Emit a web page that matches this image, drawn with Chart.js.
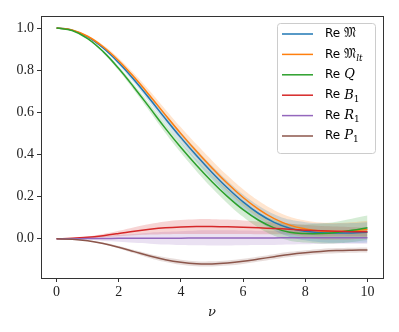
<!DOCTYPE html>
<html>
<head>
<meta charset="utf-8">
<script src="https://cdn.jsdelivr.net/npm/chart.js@4.4.1/dist/chart.umd.min.js"></script>
<style>
  html, body { margin: 0; padding: 0; background: #fff; }
  #wrap { position: relative; width: 399px; height: 332px; }
</style>
</head>
<body>
<div id="wrap"><canvas id="chart" width="399" height="332"></canvas></div>
<script>
const nu = [0, 0.5, 1, 1.5, 2, 2.5, 3, 3.5, 4, 4.5, 5, 5.5, 6, 6.5, 7, 7.5, 8, 8.5, 9, 9.5, 10];

const reM   = [1.000, 0.990, 0.958, 0.905, 0.835, 0.753, 0.663, 0.570, 0.480, 0.395, 0.315, 0.241, 0.175, 0.120, 0.078, 0.050, 0.036, 0.029, 0.027, 0.028, 0.031];
const reMlt = [1.000, 0.991, 0.961, 0.911, 0.845, 0.766, 0.679, 0.588, 0.499, 0.415, 0.336, 0.262, 0.196, 0.140, 0.096, 0.065, 0.047, 0.037, 0.035, 0.038, 0.044];
const reQ   = [1.000, 0.988, 0.950, 0.888, 0.808, 0.717, 0.621, 0.524, 0.433, 0.349, 0.271, 0.200, 0.138, 0.088, 0.052, 0.031, 0.025, 0.025, 0.030, 0.040, 0.052];
const reB1  = [0, 0.002, 0.007, 0.015, 0.025, 0.036, 0.045, 0.052, 0.056, 0.058, 0.058, 0.057, 0.055, 0.052, 0.049, 0.045, 0.041, 0.038, 0.036, 0.034, 0.033];
const reR1  = [0, 0.000, 0.001, 0.001, 0.002, 0.002, 0.003, 0.003, 0.003, 0.004, 0.004, 0.004, 0.004, 0.004, 0.004, 0.005, 0.005, 0.005, 0.005, 0.005, 0.005];
const reP1  = [0, -0.002, -0.009, -0.022, -0.040, -0.061, -0.082, -0.099, -0.111, -0.118, -0.119, -0.115, -0.107, -0.096, -0.085, -0.074, -0.066, -0.060, -0.056, -0.054, -0.053];

// half widths of the shaded bands
const errM   = [0, 0.001, 0.003, 0.006, 0.010, 0.014, 0.018, 0.022, 0.026, 0.029, 0.031, 0.033, 0.035, 0.037, 0.039, 0.041, 0.043, 0.045, 0.046, 0.047, 0.048];
const errMlt = [0, 0.001, 0.004, 0.008, 0.012, 0.017, 0.022, 0.026, 0.030, 0.033, 0.036, 0.038, 0.039, 0.040, 0.040, 0.040, 0.040, 0.040, 0.040, 0.041, 0.042];
const errQ   = [0, 0.001, 0.003, 0.006, 0.010, 0.014, 0.018, 0.022, 0.025, 0.028, 0.030, 0.032, 0.034, 0.036, 0.038, 0.040, 0.043, 0.047, 0.051, 0.055, 0.058];
const errB1  = [0, 0.001, 0.004, 0.008, 0.013, 0.019, 0.025, 0.030, 0.033, 0.035, 0.035, 0.034, 0.032, 0.030, 0.028, 0.026, 0.024, 0.023, 0.022, 0.021, 0.021];
const errR1  = [0, 0.002, 0.006, 0.011, 0.016, 0.021, 0.026, 0.030, 0.033, 0.035, 0.036, 0.036, 0.035, 0.034, 0.033, 0.032, 0.031, 0.030, 0.029, 0.029, 0.029];
const errP1  = [0, 0.001, 0.002, 0.004, 0.006, 0.008, 0.010, 0.011, 0.012, 0.012, 0.012, 0.012, 0.012, 0.012, 0.012, 0.012, 0.012, 0.012, 0.012, 0.012, 0.012];

const symbols = ['𝔐', '𝔐', 'Q', 'B', 'R', 'P'];
const subs = ['', 'lt', '', '1', '1', '1'];
const xTicks = [0, 2, 4, 6, 8, 10];
const yTicks = [0, 0.2, 0.4, 0.6, 0.8, 1.0];

const colors = ['#1f77b4', '#ff7f0e', '#2ca02c', '#d62728', '#9467bd', '#8c564b'];
const series = [reM, reMlt, reQ, reB1, reR1, reP1];
const errs = [errM, errMlt, errQ, errB1, errR1, errP1];

function pts(vals) {
  return nu.map(function(x, i) { return {x: x, y: vals[i]}; });
}

function hexA(hex, a) {
  var r = parseInt(hex.substr(1, 2), 16), g = parseInt(hex.substr(3, 2), 16), b = parseInt(hex.substr(5, 2), 16);
  return 'rgba(' + r + ',' + g + ',' + b + ',' + a + ')';
}

var datasets = [];
for (var s = 0; s < series.length; s++) {
  var lo = series[s].map(function(v, i) { return v - errs[s][i]; });
  var hi = series[s].map(function(v, i) { return v + errs[s][i]; });
  datasets.push({ data: pts(lo), borderWidth: 0, pointRadius: 0, fill: false, order: 2, tension: 0.4 });
  datasets.push({ data: pts(hi), borderWidth: 0, pointRadius: 0, fill: '-1', backgroundColor: hexA(colors[s], 0.2), order: 2, tension: 0.4 });
}
for (var s = 0; s < series.length; s++) {
  datasets.push({ data: pts(series[s]), borderColor: colors[s], borderWidth: 1.5, pointRadius: 0, fill: false, order: 1 - s * 0.01, tension: 0.4 });
}

const frameColor = '#333333';

const framePlugin = {
  id: 'frame',
  afterDraw: function(chart) {
    var ctx = chart.ctx, a = chart.chartArea;
    ctx.save();
    ctx.strokeStyle = frameColor;
    ctx.lineWidth = 1;
    ctx.strokeRect(Math.round(a.left) + 0.5, Math.round(a.top) + 0.5, Math.round(a.right - a.left), Math.round(a.bottom - a.top));

    // legend
    var bx = 277.5, by = 23.5, bw = 98, bh = 130;
    ctx.fillStyle = 'rgba(255,255,255,0.8)';
    ctx.strokeStyle = '#cccccc';
    ctx.lineWidth = 1;
    ctx.beginPath();
    ctx.roundRect(bx, by, bw, bh, 3);
    ctx.fill();
    ctx.stroke();
    for (var i = 0; i < symbols.length; i++) {
      var yy = 34 + i * 20.4;
      ctx.strokeStyle = colors[i];
      ctx.lineWidth = 1.5;
      ctx.beginPath();
      ctx.moveTo(282, yy);
      ctx.lineTo(313, yy);
      ctx.stroke();
      ctx.fillStyle = '#000';
      ctx.textBaseline = 'middle';
      ctx.font = '12px "DejaVu Sans"';
      ctx.fillText('Re', 325, yy);
      var tx = 325 + ctx.measureText('Re').width + 4;
      ctx.font = 'italic 13px "DejaVu Serif"';
      if (symbols[i] === '𝔐') ctx.font = '13px "DejaVu Serif"';
      ctx.fillText(symbols[i], tx, yy);
      tx += ctx.measureText(symbols[i]).width;
      if (subs[i]) {
        ctx.font = (subs[i] === '1' ? '' : 'italic ') + '9px "DejaVu Serif"';
        ctx.fillText(subs[i], tx, yy + 4);
      }
    }
    ctx.restore();
  }
};

new Chart(document.getElementById('chart'), {
  type: 'line',
  data: { datasets: datasets },
  options: {
    responsive: false,
    animation: false,
    layout: { padding: { top: 16, right: 16, left: 0, bottom: 0 } },
    plugins: {
      legend: { display: false },
      tooltip: { enabled: false }
    },
    scales: {
      x: {
        type: 'linear',
        min: -0.5,
        max: 10.5,
        afterBuildTicks: function(scale) { scale.ticks = xTicks.map(function(v) { return {value: v}; }); },
        afterFit: function(scale) { scale.height = 54; },
        grid: { display: true, drawOnChartArea: false, drawTicks: true, tickLength: 4, color: frameColor },
        border: { display: true, color: frameColor },
        ticks: { color: '#222', font: { family: 'Liberation Serif', size: 14 }, padding: 2, maxRotation: 0 },
        title: { display: true, text: 'ν', color: '#222', font: { family: 'DejaVu Serif', style: 'italic', size: 13 }, padding: { top: 0, bottom: 12 } }
      },
      y: {
        type: 'linear',
        min: -0.186,
        max: 1.057,
        afterBuildTicks: function(scale) { scale.ticks = yTicks.map(function(v) { return {value: v}; }); },
        afterFit: function(scale) { scale.width = 41; },
        grid: { display: true, drawOnChartArea: false, drawTicks: true, tickLength: 4, color: frameColor },
        border: { display: true, color: frameColor },
        ticks: { color: '#222', font: { family: 'Liberation Serif', size: 14 }, padding: 3, callback: function(v) { return v.toFixed(1); } }
      }
    }
  },
  plugins: [framePlugin]
});
</script>
</body>
</html>
